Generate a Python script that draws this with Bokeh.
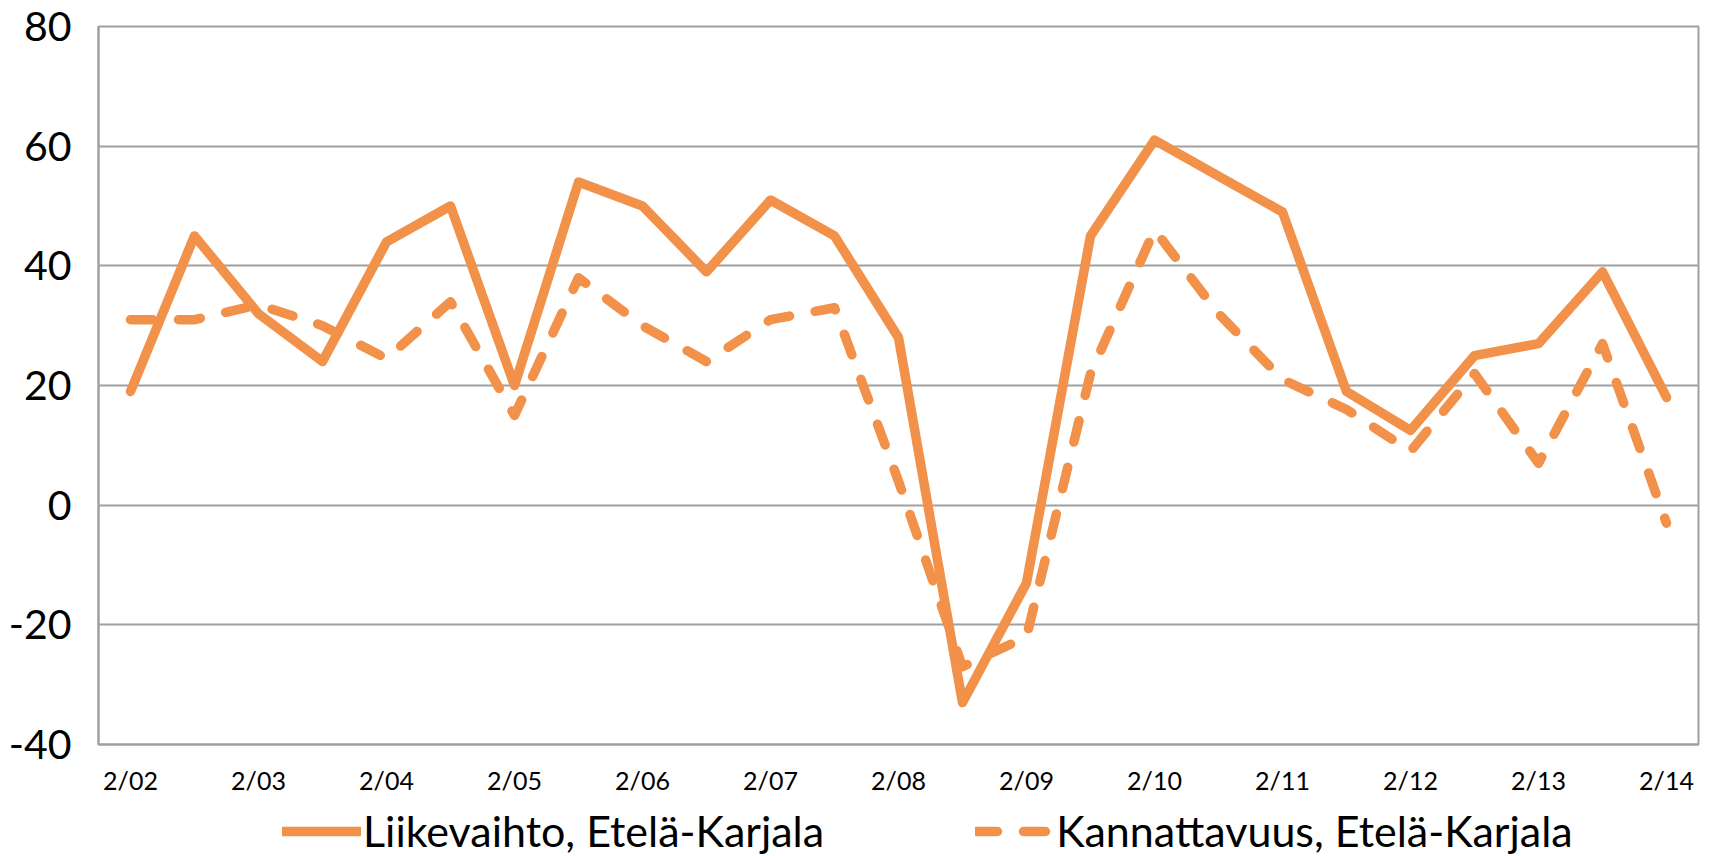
from bokeh.plotting import figure
from bokeh.models import FixedTicker, Legend, LegendItem, Range1d
from bokeh.layouts import column
from bokeh.embed import file_html
from bokeh.resources import INLINE

categories = ["2/02", "8/02", "2/03", "8/03", "2/04", "8/04", "2/05", "8/05", "2/06", "8/06",
              "2/07", "8/07", "2/08", "8/08", "2/09", "8/09", "2/10", "8/10", "2/11", "8/11",
              "2/12", "8/12", "2/13", "8/13", "2/14"]
liikevaihto = [19, 45, 32, 24, 44, 50, 20, 54, 50, 39, 51, 45, 28, -33, -13, 45, 61, 55, 49, 19,
               12.5, 25, 27, 39, 18]
kannattavuus = [31, 31, 33.5, 30, 24.5, 34, 15, 38, 30, 24, 31, 33, 4, -27, -22, 22, 46, 32, 21, 16,
                9, 22, 7, 27, -3]
y_ticks = [-40, -20, 0, 20, 40, 60, 80]
y_tick_labels = ["-40", "-20", "0", "20", "40", "60", "80"]
series_names = ["Liikevaihto, Etelä-Karjala", "Kannattavuus, Etelä-Karjala"]

FONT = "Lato"
ORANGE = "#F29149"
GRID = "#a0a0a0"
LW = 9.5
DASH = "22 26"

x = list(range(len(categories)))
label_idx = [i for i in x if i % 2 == 0]

p = figure(width=1714, height=800, output_backend="svg", toolbar_location=None,
           x_range=Range1d(-0.5, len(categories) - 0.5), y_range=Range1d(-40, 80),
           min_border_left=98, min_border_right=16, min_border_top=26, min_border_bottom=56)

r1 = p.line(x, liikevaihto, line_color=ORANGE, line_width=LW, line_join="round", line_cap="round")
r2 = p.line(x, kannattavuus, line_color=ORANGE, line_width=LW, line_join="round", line_cap="round",
            line_dash=DASH)

p.xaxis.ticker = FixedTicker(ticks=label_idx)
p.xaxis.major_label_overrides = {i: categories[i] for i in label_idx}
p.yaxis.ticker = FixedTicker(ticks=y_ticks)
p.yaxis.major_label_overrides = dict(zip(y_ticks, y_tick_labels))
p.xgrid.grid_line_color = None
p.ygrid.grid_line_color = GRID
p.ygrid.grid_line_width = 1.8

for ax in (p.xaxis, p.yaxis):
    ax.axis_line_color = GRID
    ax.axis_line_width = 2
    ax.major_tick_line_color = None
    ax.minor_tick_line_color = None
    ax.major_tick_out = 0
    ax.major_tick_in = 0
    ax.minor_tick_out = 0
    ax.minor_tick_in = 0
    ax.major_label_text_font = FONT
    ax.major_label_text_color = "#000000"

p.xaxis.major_label_text_font_size = "25px"
p.xaxis.major_label_standoff = 20
p.yaxis.major_label_text_font_size = "41px"
p.yaxis.major_label_standoff = 27

p.outline_line_color = GRID
p.outline_line_width = 2
p.background_fill_color = "white"
p.border_fill_color = "white"

# legend strip below the chart (its frame is aligned with the chart frame by the column)
lg = figure(width=1714, height=56, output_backend="svg", toolbar_location=None,
            x_range=Range1d(0, 1), y_range=Range1d(0, 1), x_axis_type=None, y_axis_type=None,
            min_border_left=98, min_border_right=16, min_border_top=0, min_border_bottom=0)
lg.outline_line_color = None
lg.xgrid.grid_line_color = None
lg.ygrid.grid_line_color = None
# renderers only serve as legend swatches; their data lies outside the visible range
l1 = lg.line(x[:2], liikevaihto[:2], line_color=ORANGE, line_width=LW, line_cap="round")
l2 = lg.line(x[:2], kannattavuus[:2], line_color=ORANGE, line_width=LW, line_cap="round",
             line_dash=DASH)
lg.x_range.start, lg.x_range.end = 100, 101

legend = Legend(items=[LegendItem(label=series_names[0], renderers=[l1]),
                       LegendItem(label=series_names[1], renderers=[l2])],
                orientation="horizontal", location=(184, 0),
                glyph_width=79, glyph_height=30, label_standoff=2, spacing=151,
                padding=0, margin=0, border_line_color=None, background_fill_alpha=0,
                label_text_font=FONT, label_text_font_size="43px", label_text_color="#000000")
lg.add_layout(legend, "center")

layout = column(p, lg, spacing=0)
open("out.html", "w").write(file_html(layout, INLINE))
